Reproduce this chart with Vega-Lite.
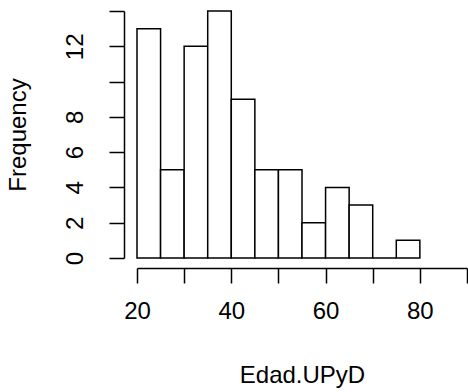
{
  "$schema": "https://vega.github.io/schema/vega-lite/v6.json",
  "autosize": "none",
  "width": 330,
  "height": 247,
  "padding": {"left": 137, "top": 11, "right": 1, "bottom": 134},
  "background": "white",
  "config": {
    "view": {"stroke": null},
    "font": "Liberation Sans"
  },
  "data": {
    "values": [
      {"bin_start": 20, "bin_end": 25, "count": 13},
      {"bin_start": 25, "bin_end": 30, "count": 5},
      {"bin_start": 30, "bin_end": 35, "count": 12},
      {"bin_start": 35, "bin_end": 40, "count": 14},
      {"bin_start": 40, "bin_end": 45, "count": 9},
      {"bin_start": 45, "bin_end": 50, "count": 5},
      {"bin_start": 50, "bin_end": 55, "count": 5},
      {"bin_start": 55, "bin_end": 60, "count": 2},
      {"bin_start": 60, "bin_end": 65, "count": 4},
      {"bin_start": 65, "bin_end": 70, "count": 3},
      {"bin_start": 70, "bin_end": 75, "count": 0},
      {"bin_start": 75, "bin_end": 80, "count": 1}
    ]
  },
  "mark": {"type": "rect", "fill": "white", "stroke": "black", "strokeWidth": 1.5},
  "encoding": {
    "x": {
      "field": "bin_start",
      "type": "quantitative",
      "scale": {"domain": [20, 90], "nice": false, "zero": false},
      "axis": {
        "title": "Edad.UPyD",
        "values": [20, 30, 40, 50, 60, 70, 80, 90],
        "labelExpr": "datum.value % 20 == 0 && datum.value < 90 ? datum.label : ''",
        "offset": 10,
        "grid": false,
        "domainColor": "black",
        "domainWidth": 1.5,
        "tickColor": "black",
        "tickWidth": 1.5,
        "tickSize": 15,
        "labelFontSize": 24,
        "labelColor": "black",
        "labelPadding": 16,
        "labelFlush": false,
        "titleFontSize": 24,
        "titleFontWeight": "normal",
        "titleColor": "black",
        "titlePadding": 40
      }
    },
    "x2": {"field": "bin_end"},
    "y": {
      "field": "count",
      "type": "quantitative",
      "scale": {"domain": [0, 14], "nice": false},
      "axis": {
        "title": "Frequency",
        "values": [0, 2, 4, 6, 8, 10, 12, 14],
        "labelExpr": "datum.value == 10 || datum.value == 14 ? '' : datum.label",
        "offset": 13,
        "grid": false,
        "domainColor": "black",
        "domainWidth": 1.5,
        "tickColor": "black",
        "tickWidth": 1.5,
        "tickSize": 15,
        "labelAngle": 270,
        "labelAlign": "center",
        "labelBaseline": "bottom",
        "labelFontSize": 24,
        "labelColor": "black",
        "labelPadding": 22,
        "labelFlush": false,
        "titleFontSize": 24,
        "titleFontWeight": "normal",
        "titleColor": "black",
        "titlePadding": 33
      }
    },
    "y2": {"datum": 0}
  }
}
